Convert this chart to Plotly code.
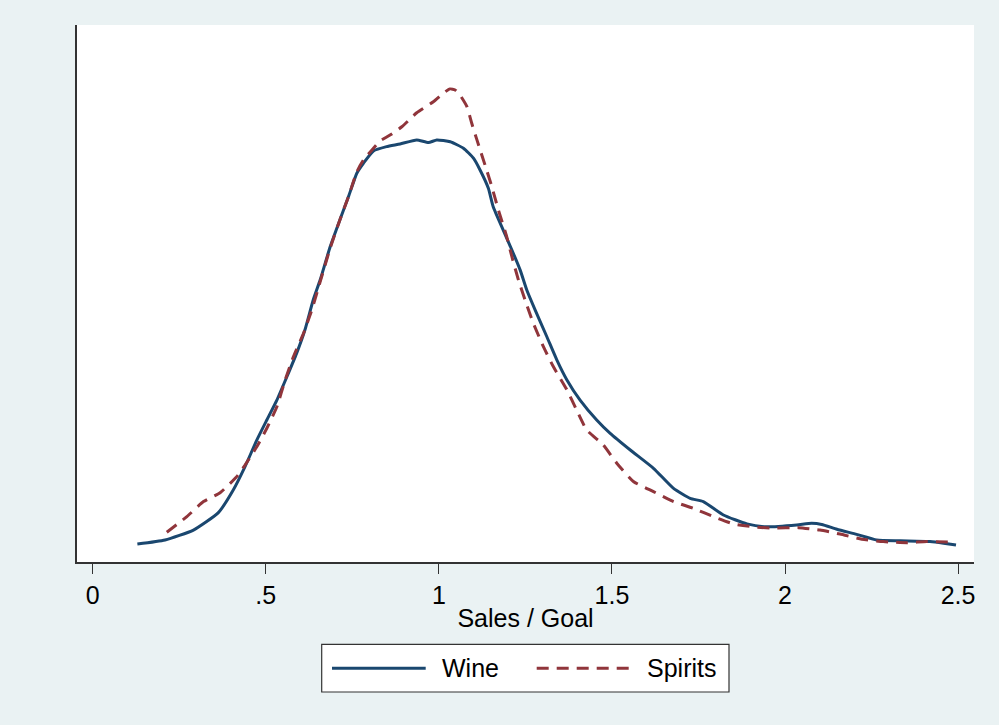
import plotly.graph_objects as go

# Data (x = Sales / Goal, y = kernel density)
wine_x = [0.129, 0.209, 0.291, 0.363, 0.406, 0.440, 0.474, 0.503, 0.532, 0.561,
          0.589, 0.613, 0.637, 0.657, 0.686, 0.714, 0.739, 0.763, 0.782, 0.811,
          0.849, 0.888, 0.936, 0.970, 0.994, 1.033, 1.071, 1.100, 1.119, 1.143,
          1.157, 1.186, 1.211, 1.235, 1.254, 1.278, 1.312, 1.341, 1.370, 1.408,
          1.456, 1.495, 1.553, 1.620, 1.678, 1.726, 1.764, 1.822, 1.890, 1.947,
          2.034, 2.077, 2.106, 2.150, 2.207, 2.265, 2.333, 2.419, 2.458, 2.494]
wine_y = [0.067, 0.082, 0.119, 0.184, 0.268, 0.355, 0.454, 0.529, 0.603, 0.690,
          0.777, 0.864, 0.976, 1.050, 1.174, 1.274, 1.361, 1.448, 1.485, 1.531,
          1.547, 1.557, 1.572, 1.562, 1.572, 1.565, 1.541, 1.504, 1.460, 1.392,
          1.323, 1.236, 1.162, 1.087, 1.013, 0.939, 0.839, 0.752, 0.678, 0.603,
          0.529, 0.479, 0.417, 0.349, 0.274, 0.237, 0.225, 0.175, 0.142, 0.131,
          0.138, 0.144, 0.140, 0.122, 0.103, 0.082, 0.079, 0.076, 0.070, 0.063]

spirits_x = [0.214, 0.272, 0.320, 0.368, 0.416, 0.440, 0.474, 0.503, 0.532, 0.556,
             0.580, 0.609, 0.633, 0.657, 0.686, 0.714, 0.739, 0.763, 0.782, 0.811,
             0.830, 0.859, 0.893, 0.936, 0.984, 1.013, 1.032, 1.047, 1.061, 1.081,
             1.095, 1.110, 1.138, 1.153, 1.172, 1.196, 1.211, 1.230, 1.249, 1.273,
             1.302, 1.331, 1.370, 1.398, 1.427, 1.475, 1.514, 1.562, 1.620, 1.678,
             1.735, 1.793, 1.851, 1.909, 1.966, 2.039, 2.101, 2.159, 2.222, 2.284,
             2.352, 2.410, 2.494]
spirits_y = [0.111, 0.169, 0.225, 0.258, 0.318, 0.361, 0.429, 0.498, 0.578, 0.678,
             0.765, 0.852, 0.939, 1.043, 1.169, 1.274, 1.361, 1.453, 1.497, 1.541,
             1.568, 1.590, 1.621, 1.673, 1.714, 1.746, 1.762, 1.758, 1.739, 1.696,
             1.634, 1.572, 1.460, 1.398, 1.311, 1.212, 1.137, 1.050, 0.976, 0.889,
             0.802, 0.727, 0.641, 0.566, 0.492, 0.436, 0.368, 0.300, 0.262, 0.225,
             0.200, 0.169, 0.142, 0.131, 0.126, 0.128, 0.119, 0.104, 0.085, 0.076,
             0.072, 0.076, 0.073]

x_ticks = [0, 0.5, 1, 1.5, 2, 2.5]
x_tick_labels = ["0", ".5", "1", "1.5", "2", "2.5"]
series_names = ["Wine", "Spirits"]

WINE_COLOR = "#1a476f"
SPIRITS_COLOR = "#90353b"
BG = "#eaf2f3"
AXIS = "#333333"
FONT = "Liberation Sans, Arial, sans-serif"
FS = 25
LW = 3

fig = go.Figure()
fig.add_trace(go.Scatter(x=wine_x, y=wine_y, mode="lines", name=series_names[0],
                         line=dict(color=WINE_COLOR, width=LW, shape="spline", smoothing=0.5),
                         showlegend=False))
fig.add_trace(go.Scatter(x=spirits_x, y=spirits_y, mode="lines", name=series_names[1],
                         line=dict(color=SPIRITS_COLOR, width=LW, dash="12px,8px",
                                   shape="spline", smoothing=0.5),
                         showlegend=False))

L, R, T, B = 77, 25, 25, 163
W, H = 999, 725
PW, PH = W - L - R, H - T - B


def px2paper_x(px):
    return (px - L) / PW


def px2paper_y(py):
    return (H - B - py) / PH


# Custom legend box (Stata style)
fig.add_shape(type="rect", xref="paper", yref="paper",
              x0=px2paper_x(321.7), x1=px2paper_x(729), y0=px2paper_y(692), y1=px2paper_y(644.3),
              line=dict(color=AXIS, width=1.2), fillcolor="white", layer="above")
ly = px2paper_y(668.3)
fig.add_shape(type="line", xref="paper", yref="paper",
              x0=px2paper_x(332), x1=px2paper_x(425.7), y0=ly, y1=ly,
              line=dict(color=WINE_COLOR, width=LW))
fig.add_shape(type="line", xref="paper", yref="paper",
              x0=px2paper_x(536.7), x1=px2paper_x(631.7), y0=ly, y1=ly,
              line=dict(color=SPIRITS_COLOR, width=LW, dash="12px,8px"))
fig.add_annotation(xref="paper", yref="paper", x=px2paper_x(440), y=ly,
                   text=series_names[0], showarrow=False, xanchor="left", yanchor="middle",
                   font=dict(family=FONT, size=FS, color="black"))
fig.add_annotation(xref="paper", yref="paper", x=px2paper_x(645), y=ly,
                   text=series_names[1], showarrow=False, xanchor="left", yanchor="middle",
                   font=dict(family=FONT, size=FS, color="black"))

fig.update_layout(
    width=W, height=H,
    margin=dict(l=L, r=R, t=T, b=B, pad=0),
    paper_bgcolor=BG, plot_bgcolor="white",
    font=dict(family=FONT, size=FS, color="black"),
    xaxis=dict(range=[-0.0454, 2.546], tickvals=x_ticks, ticktext=x_tick_labels,
               ticks="outside", ticklen=10, tickwidth=1.3, tickcolor=AXIS,
               showline=True, linecolor=AXIS, linewidth=1.5, showgrid=False, zeroline=False,
               tickfont=dict(family=FONT, size=FS, color="black"),
               title=dict(text="Sales / Goal", font=dict(family=FONT, size=FS, color="black"),
                          standoff=2)),
    yaxis=dict(range=[0, 2.0], showticklabels=False, ticks="", showline=True,
               linecolor=AXIS, linewidth=1.5, showgrid=False, zeroline=False),
)

fig.write_html(
    "out.html",
    config={"displayModeBar": False},
    post_script="document.body.style.margin='0';document.body.style.padding='0';"
                "document.body.style.background='" + BG + "';",
)
